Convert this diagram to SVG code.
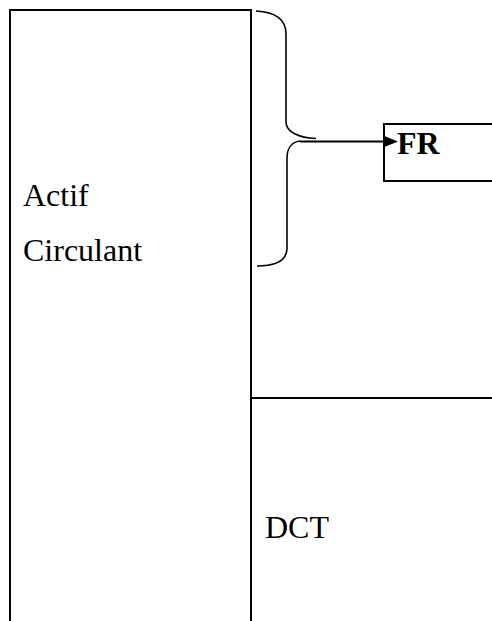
<svg xmlns="http://www.w3.org/2000/svg" width="492" height="621" viewBox="0 0 492 621">
<style>
.ln{stroke:#000;stroke-width:2;fill:none}
.br{stroke:#000;stroke-width:1.6;fill:none}
.t{font-family:"Liberation Serif","Times New Roman",serif;font-size:32px;fill:#000}
.b{font-weight:bold}
</style>
<rect width="492" height="621" fill="#fff"/>
<g id="actif">
<path class="ln" d="M10,621 L10,10 L251,10 L251,621"/>
<text class="t" x="23" y="206">Actif</text>
<text class="t" x="23" y="261">Circulant</text>
</g>
<g id="dct">
<line class="ln" x1="251" y1="398" x2="492" y2="398"/>
<text class="t" x="265" y="538">DCT</text>
</g>
<g id="fr">
<path class="ln" d="M492,124 L384,124 L384,181 L492,181"/>
<text class="t b" x="397" y="154">FR</text>
</g>
<g id="connectors">
<path class="br" d="M256,11 C276,12 286,19 286,34 L286,122 C286,132 299,138 316,138.5"/>
<path class="br" d="M300,141 C292,142 287,148 287,158 L287,248 C287,260 276,266 257,266"/>
<line class="ln" x1="300" y1="141.5" x2="385" y2="141.5"/>
<path d="M383,135.5 L398,141.5 L383,147.5 Z" fill="#000"/>
</g>
</svg>
